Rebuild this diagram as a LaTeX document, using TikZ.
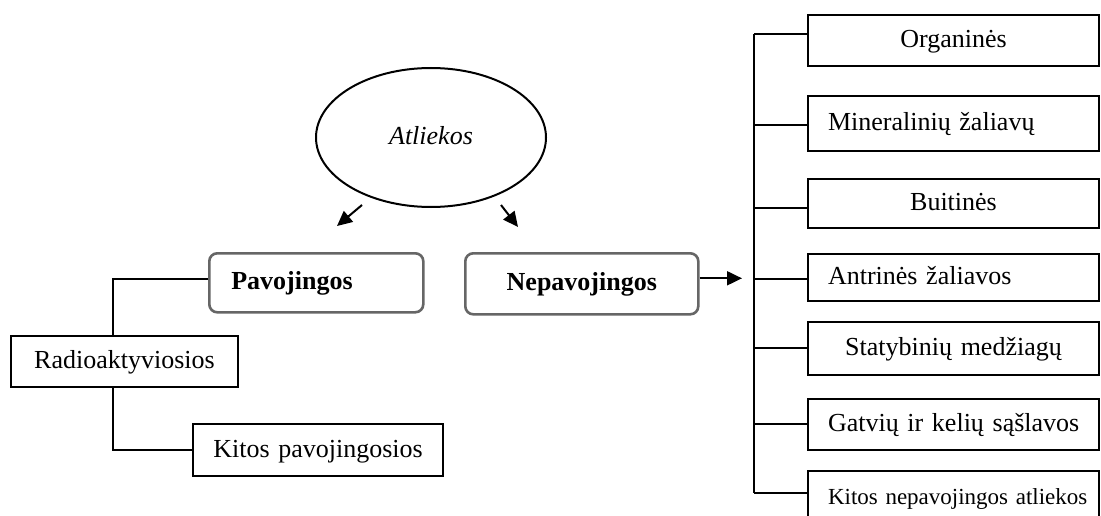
\documentclass[tikz,border=0pt]{standalone}
\usepackage{fontspec}
\setmainfont{Liberation Serif}
\usetikzlibrary{shapes.geometric,arrows.meta}

\tikzset{
  txt/.style={font=\fontsize{26}{30}\selectfont, text height=17pt, text depth=3pt},
  plainbox/.style={txt, draw=black, line width=2pt, inner ysep=0pt, anchor=north west},
  catbox/.style={txt, draw=black!60, line width=2.6pt, rounded corners=8pt,
    inner ysep=0pt, anchor=north west, font=\fontsize{26}{30}\selectfont\bfseries},
  rightbox/.style={plainbox, inner xsep=20pt, text width=251pt},
  link/.style={draw=black, line width=2pt},
  tip/.style={link, -{Triangle[length=15pt,width=14pt]}}
}

\begin{document}
\begin{tikzpicture}[x=1pt,y=-1pt]
\useasboundingbox (0,0) rectangle (1101,516);
\clip (0,0) rectangle (1101,516);

% root
\node[ellipse, draw=black, line width=2pt, minimum width=230pt, minimum height=139pt,
      inner sep=0pt, txt, font=\fontsize{26}{30}\selectfont\itshape] (root) at (431,137.5) {Atliekos};

% the two categories
\node[catbox, inner xsep=22pt, text width=170pt, align=left, minimum height=59pt] (pav) at (208,252) {Pavojingos};
\node[catbox, inner xsep=10pt, text width=213pt, align=center, minimum height=61pt] (nep) at (464,252) {Nepavojingos};

% hazardous sub-types
\node[plainbox, inner xsep=10pt, text width=207pt, align=center, minimum height=51pt] (rad) at (10,335) {Radioaktyviosios};
\node[plainbox, inner xsep=10pt, text width=230pt, align=center, minimum height=52pt] (kit) at (192,423) {Kitos pavojingosios};

% non-hazardous sub-types
\node[rightbox, align=center, minimum height=51pt] (org) at (807,14) {Organinės};
\node[rightbox, align=left, minimum height=55pt] (min) at (807,95) {\mbox{Mineralinių žaliavų}};
\node[rightbox, align=center, minimum height=49pt] (bui) at (807,178) {Buitinės};
\node[rightbox, align=left, minimum height=47pt] (ant) at (807,253) {\mbox{Antrinės žaliavos}};
\node[rightbox, align=center, minimum height=53pt] (sta) at (807,321) {Statybinių medžiagų};
\node[rightbox, align=left, minimum height=51pt] (gat) at (807,398) {\mbox{Gatvių ir kelių sąšlavos}};
\node[rightbox, align=left, minimum height=52pt, font=\fontsize{23}{27}\selectfont] (kne) at (807,470) {\mbox{Kitos nepavojingos atliekos}};

% helper coordinates
\coordinate (la) at (362,205);
\coordinate (lb) at (337,226);
\coordinate (ra) at (501,205);
\coordinate (rb) at (518,227);
\coordinate (ltr) at (113,0);
\coordinate (rtr) at (754,0);
\coordinate (arr) at (742,0);

% connection points on the boxes
\coordinate (pavin) at ([yshift=3.5pt]pav.west);
\coordinate (nepout) at ([yshift=5.5pt]nep.east);
\coordinate (orgin) at ([yshift=6.5pt]org.west);
\coordinate (minin) at ([yshift=-1.5pt]min.west);
\coordinate (buiin) at ([yshift=-4.5pt]bui.west);
\coordinate (antin) at ([yshift=-1.5pt]ant.west);
\coordinate (stain) at ([yshift=0.5pt]sta.west);
\coordinate (gatin) at ([yshift=0.5pt]gat.west);
\coordinate (knein) at ([yshift=4pt]kne.west);

% arrows from the root
\draw[tip] (la) -- (lb);
\draw[tip] (ra) -- (rb);

% hazardous tree
\draw[link] (pavin) -| (ltr |- rad.north);
\draw[link] (ltr |- rad.south) |- (kit.west);

% non-hazardous tree
\draw[tip] (nepout) -- (arr |- nepout);
\draw[link] (rtr |- orgin) -- (rtr |- knein);
\foreach \p in {orgin,minin,buiin,antin,stain,gatin,knein}
  \draw[link] (\p) -- (rtr |- \p);
\end{tikzpicture}
\end{document}
